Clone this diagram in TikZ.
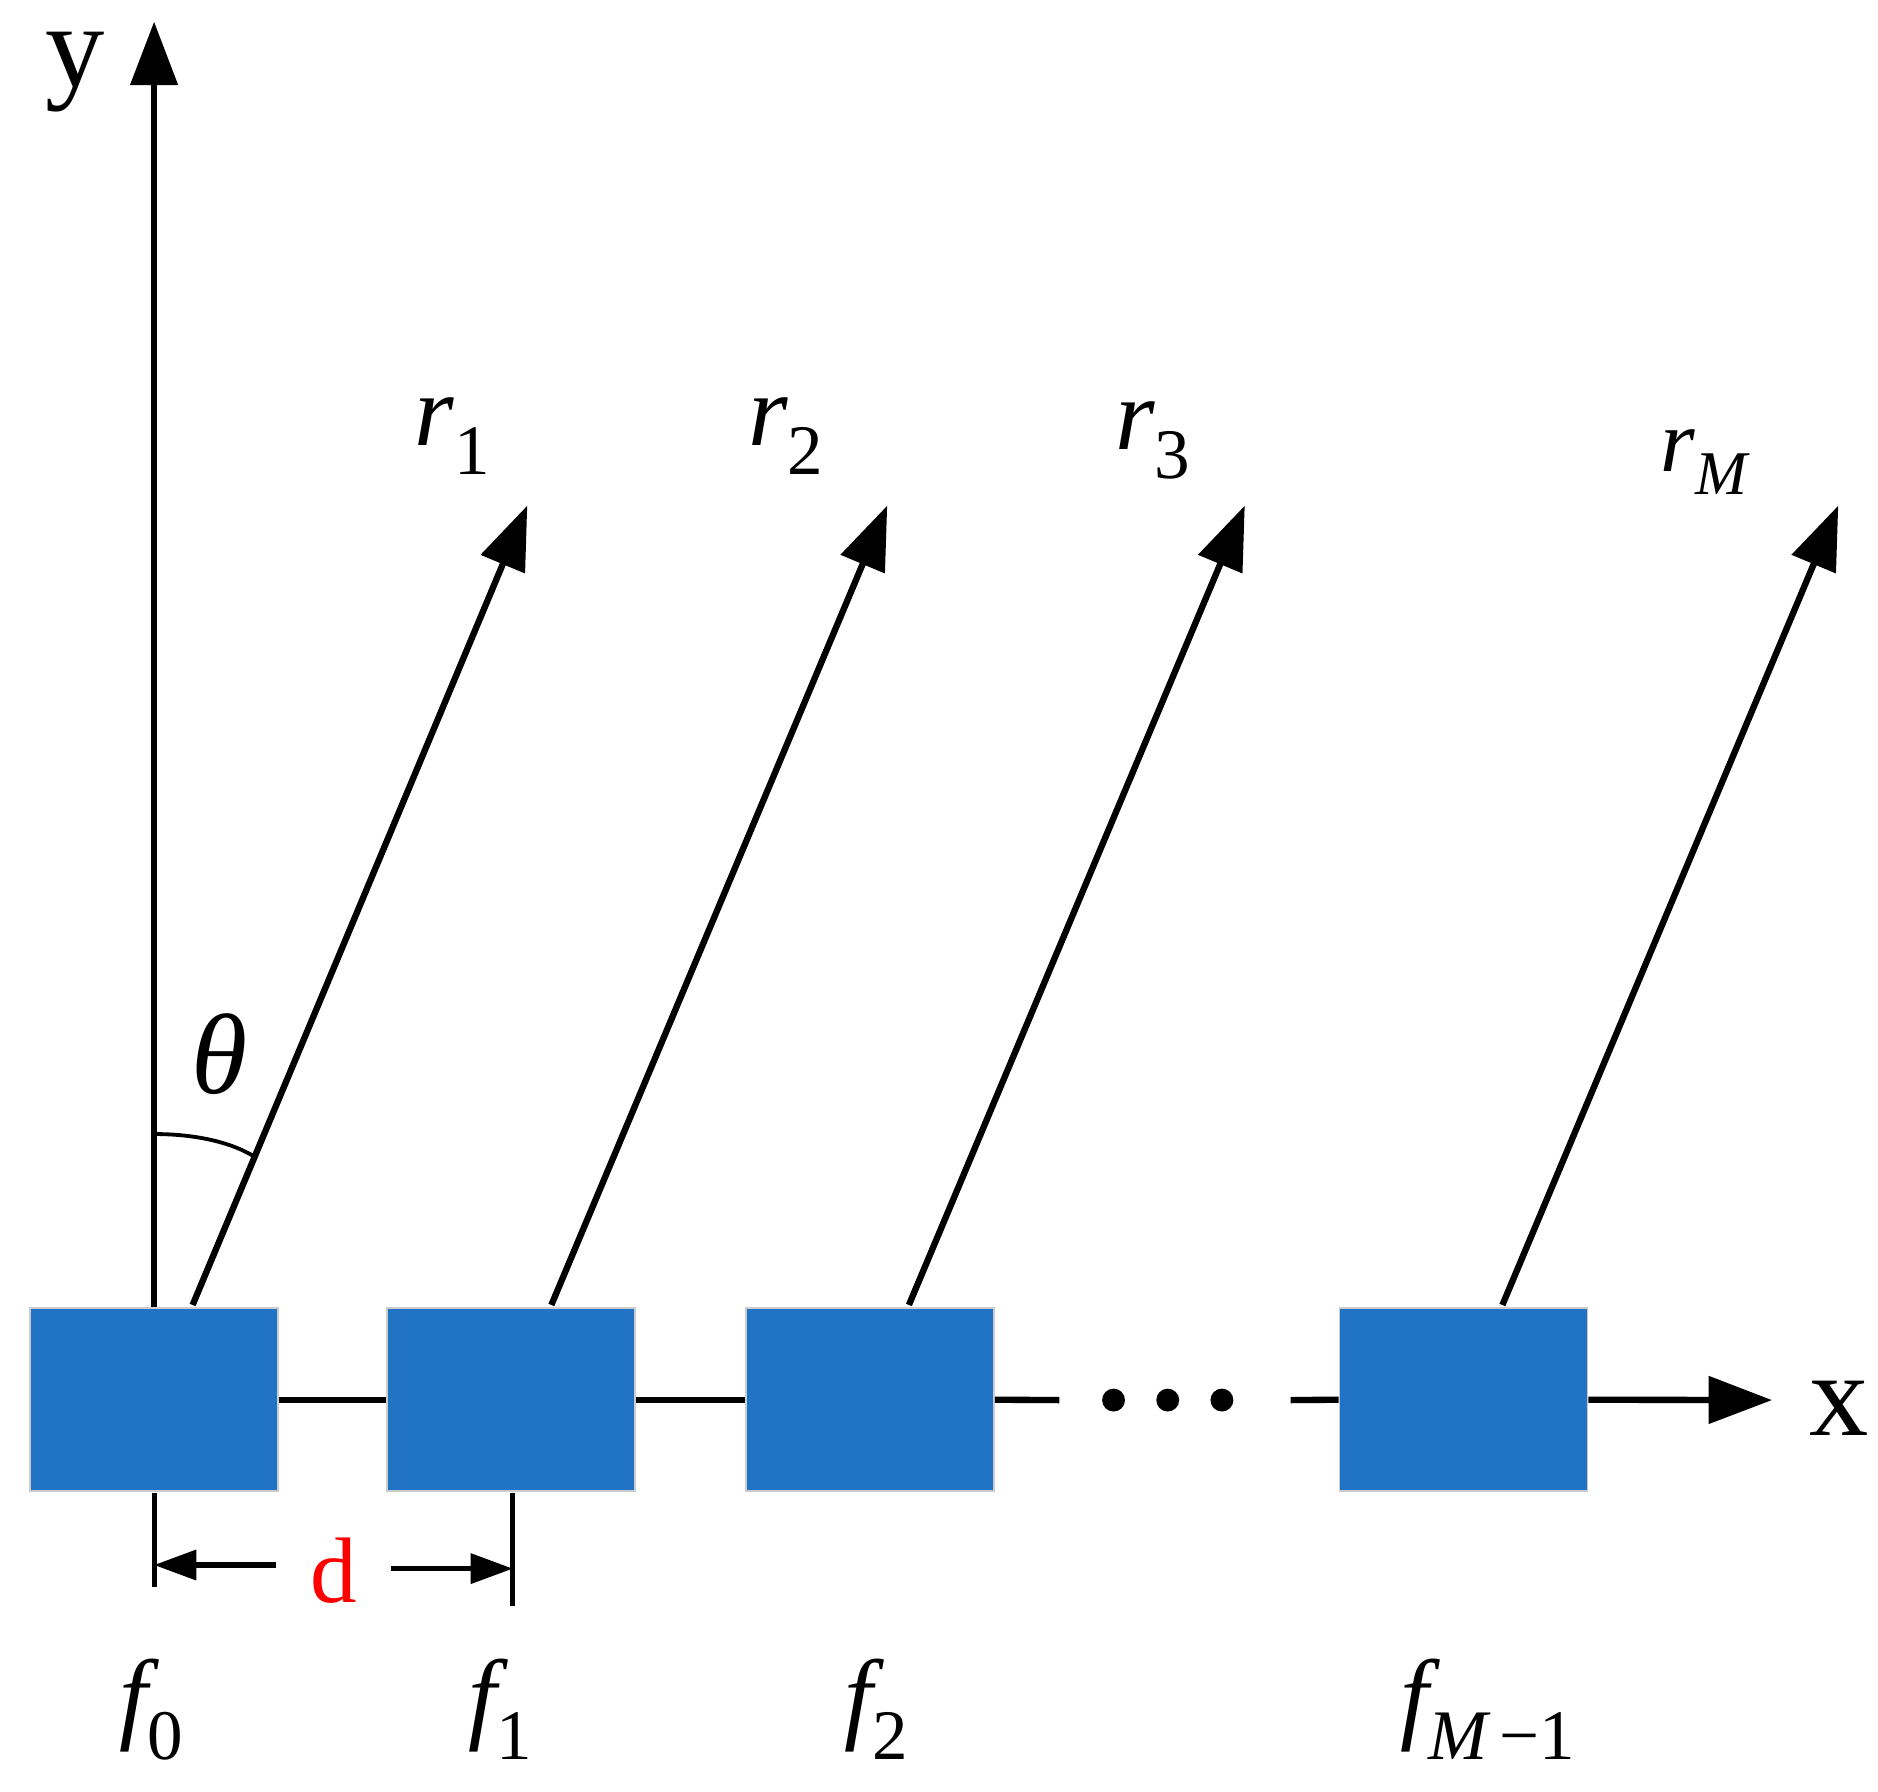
\documentclass[tikz,border=0pt]{standalone}
\usepackage{fontspec}
\setmainfont{Liberation Serif}
\usetikzlibrary{arrows.meta}
\definecolor{boxblue}{HTML}{2173C6}
\begin{document}
\begin{tikzpicture}[x=0.02cm,y=-0.02cm,
  ln/.style={line width=3pt,black},
  arr/.style={ln,-{Triangle[length=30pt,width=22pt]}},
  darr/.style={line width=2.4pt,-{Triangle[length=20pt,width=14pt]}},
  box/.style={draw=gray!40,line width=0.8pt,fill=boxblue,minimum width=206*0.02cm,minimum height=152*0.02cm,inner sep=0,anchor=north west},
  big/.style={font=\fontsize{56}{66}\selectfont,inner sep=0},
  lab/.style={font=\fontsize{48}{58}\selectfont\itshape,inner sep=0}]
\useasboundingbox (0,0) rectangle (1560,1488);
\node[box] (b0) at (24,1086) {};
\node[box] (b1) at (321,1086) {};
\node[box] (b2) at (619,1086) {};
\node[box] (b3) at (1112,1086) {};
% axes
\coordinate (ytop) at (128,18);
\coordinate (ybot) at (128,1086);
\draw[arr] (ybot) -- (ytop);
\node[big,anchor=base,text height=0.45em,text depth=0.2em] (ylab) at (62,72) {y};
\draw[ln] (b0.east) -- (b1.west);
\draw[ln] (b1.east) -- (b2.west);
\coordinate (g1) at (880,1163);
\coordinate (g2) at (1072,1163);
\draw[ln] (b2.east) -- (g1);
\draw[ln] (g2) -- (b3.west);
\coordinate (xend) at (1472,1163);
\draw[arr] (b3.east) -- (xend);
\node[big] (xlab) at (1528,1170) {x};
\foreach \i/\x in {1/925,2/970,3/1015} \fill (\x,1163) circle (9.5) coordinate (dot\i);
% rays
\foreach \n/\xs/\xe in {1/160/438,2/458/737,3/755/1034,4/1248/1527}{
  \coordinate (s\n) at (\xs,1084);
  \coordinate (e\n) at (\xe,420);
  \draw[arr] (s\n) -- (e\n);
}
\node[lab] (r1) at (376,362) {r\textsubscript{\upshape 1}};
\node[lab] (r2) at (653,362) {r\textsubscript{\upshape 2}};
\node[lab] (r3) at (958,366) {r\textsubscript{\upshape 3}};
\node[lab,font=\fontsize{42}{50}\selectfont\itshape] (rM) at (1416,384) {r\textsubscript{M}};
% theta
\node[lab,font=\fontsize{54}{60}\selectfont\itshape] (th) at (182,876) {θ};
\draw[line width=1.8pt] (128,942) .. controls (160,942) and (190,948) .. (210,960);
% d
\coordinate (v0a) at (128,1240); \coordinate (v0b) at (128,1318);
\coordinate (v1a) at (426,1240); \coordinate (v1b) at (426,1334);
\draw[line width=2.4pt] (v0a) -- (v0b);
\draw[line width=2.4pt] (v1a) -- (v1b);
\coordinate (d1) at (229,1300); \coordinate (d2) at (325,1303);
\draw[darr] (d1) -- (128,1300);
\draw[darr] (d2) -- (426,1303);
\node[font=\fontsize{44}{52}\selectfont,text=red,inner sep=0] (dl) at (277,1305) {d};
% f labels
\node[lab] (f0) at (126,1420) {f\textsubscript{\upshape 0}};
\node[lab] (f1) at (416,1420) {f\textsubscript{\upshape 1}};
\node[lab] (f2) at (728,1420) {f\textsubscript{\upshape 2}};
\node[lab] (fM) at (1236,1420) {f\textsubscript{M\,\upshape −1}};
\end{tikzpicture}
\end{document}
